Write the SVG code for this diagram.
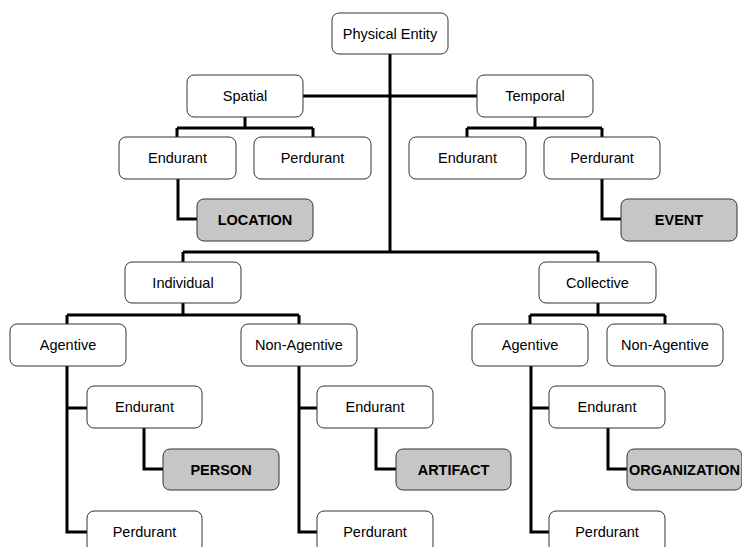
<svg xmlns="http://www.w3.org/2000/svg" width="742" height="547" viewBox="0 0 742 547">
<style>
.n rect{fill:#fff;stroke:#333;stroke-width:1}
.k rect{fill:#c6c6c6;stroke:#333;stroke-width:1}
text{font-family:"Liberation Sans",Arial,sans-serif;font-size:14.5px;fill:#000;text-anchor:middle;dominant-baseline:central}
.k text{font-weight:bold}
#edges path{fill:none;stroke:#000;stroke-width:3}
</style>
<rect width="742" height="547" fill="#fff"/>
<g id="edges">
<path d="M390 54V252M303 96H477"/>
<path d="M245 117V128M177 128H313M177 128V137M313 128V137"/>
<path d="M535 117V128M467 128H602M467 128V137M602 128V137"/>
<path d="M178 179V219H197"/>
<path d="M602 179V219H621"/>
<path d="M183 252H598M183 252V262M598 252V262"/>
<path d="M183 303V315M67 315H299M67 315V324M299 315V324"/>
<path d="M598 303V315M530 315H665M530 315V324M665 315V324"/>
<path d="M67 366V532H87M67 408H87"/>
<path d="M144 428V469H163"/>
<path d="M299 366V532H317M299 408H317"/>
<path d="M376 428V469H396"/>
<path d="M531 366V532H549M531 408H549"/>
<path d="M608 428V469H627"/>
</g>
<g id="physical-entity" class="n"><rect x="332" y="13" width="116" height="41" rx="7"/><text x="390" y="34">Physical Entity</text></g>
<g id="spatial" class="n"><rect x="187" y="75" width="116" height="42" rx="7"/><text x="245" y="96">Spatial</text></g>
<g id="temporal" class="n"><rect x="477" y="75" width="116" height="42" rx="7"/><text x="535" y="96">Temporal</text></g>
<g id="spatial-endurant" class="n"><rect x="119" y="137" width="117" height="42" rx="7"/><text x="177.5" y="158">Endurant</text></g>
<g id="spatial-perdurant" class="n"><rect x="254" y="137" width="117" height="42" rx="7"/><text x="312.5" y="158">Perdurant</text></g>
<g id="temporal-endurant" class="n"><rect x="409" y="137" width="117" height="42" rx="7"/><text x="467.5" y="158">Endurant</text></g>
<g id="temporal-perdurant" class="n"><rect x="544" y="137" width="116" height="42" rx="7"/><text x="602" y="158">Perdurant</text></g>
<g id="location" class="k"><rect x="197" y="199" width="116" height="42" rx="7"/><text x="255" y="220">LOCATION</text></g>
<g id="event" class="k"><rect x="621" y="199" width="116" height="42" rx="7"/><text x="679" y="220">EVENT</text></g>
<g id="individual" class="n"><rect x="125" y="262" width="116" height="41" rx="7"/><text x="183" y="283">Individual</text></g>
<g id="collective" class="n"><rect x="539" y="262" width="117" height="41" rx="7"/><text x="597.5" y="283">Collective</text></g>
<g id="ind-agentive" class="n"><rect x="10" y="324" width="116" height="42" rx="7"/><text x="68" y="345">Agentive</text></g>
<g id="ind-nonagentive" class="n"><rect x="241" y="324" width="116" height="42" rx="7"/><text x="299" y="345">Non-Agentive</text></g>
<g id="col-agentive" class="n"><rect x="472" y="324" width="116" height="42" rx="7"/><text x="530" y="345">Agentive</text></g>
<g id="col-nonagentive" class="n"><rect x="607" y="324" width="116" height="42" rx="7"/><text x="665" y="345">Non-Agentive</text></g>
<g id="ia-endurant" class="n"><rect x="87" y="386" width="115" height="42" rx="7"/><text x="144.5" y="407">Endurant</text></g>
<g id="ia-perdurant" class="n"><rect x="87" y="511" width="115" height="42" rx="7"/><text x="144.5" y="532">Perdurant</text></g>
<g id="person" class="k"><rect x="163" y="449" width="116" height="41" rx="7"/><text x="221" y="470">PERSON</text></g>
<g id="in-endurant" class="n"><rect x="317" y="386" width="116" height="42" rx="7"/><text x="375" y="407">Endurant</text></g>
<g id="in-perdurant" class="n"><rect x="317" y="511" width="116" height="42" rx="7"/><text x="375" y="532">Perdurant</text></g>
<g id="artifact" class="k"><rect x="396" y="449" width="115" height="41" rx="7"/><text x="453.5" y="470">ARTIFACT</text></g>
<g id="ca-endurant" class="n"><rect x="549" y="386" width="116" height="42" rx="7"/><text x="607" y="407">Endurant</text></g>
<g id="ca-perdurant" class="n"><rect x="549" y="511" width="116" height="42" rx="7"/><text x="607" y="532">Perdurant</text></g>
<g id="organization" class="k"><rect x="627" y="449" width="115" height="41" rx="7"/><text x="684.5" y="470">ORGANIZATION</text></g>
</svg>
